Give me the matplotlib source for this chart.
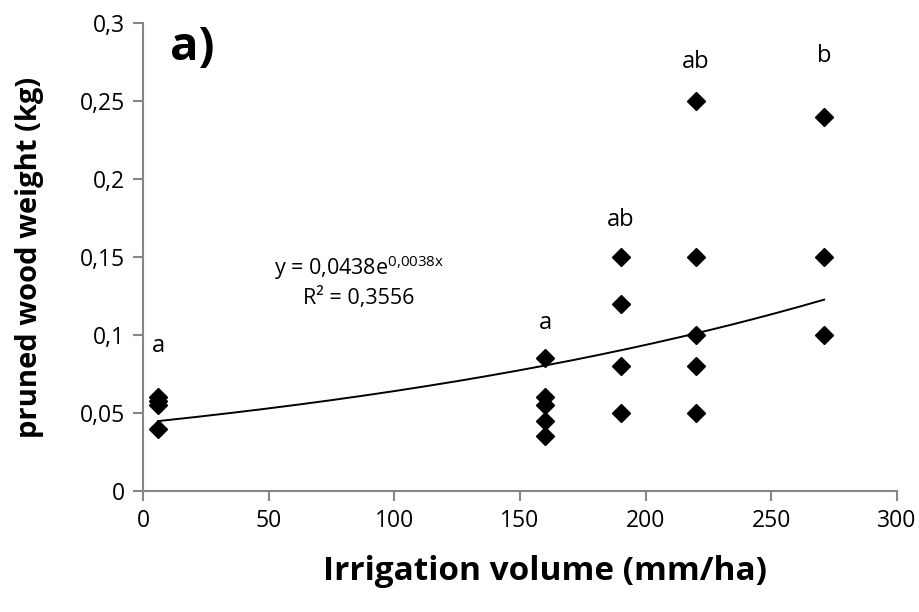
import numpy as np
import matplotlib.pyplot as plt
from matplotlib.ticker import FuncFormatter

plt.rcParams['font.family'] = ['Open Sans', 'DejaVu Sans']

# irrigation volume (mm/ha) and pruned wood weight (kg)
irrigation = [6, 6, 6, 6,
              160, 160, 160, 160, 160,
              190, 190, 190, 190,
              220, 220, 220, 220, 220,
              271, 271, 271]
wood = [0.06, 0.058, 0.055, 0.04,
        0.085, 0.06, 0.055, 0.045, 0.035,
        0.15, 0.12, 0.08, 0.05,
        0.25, 0.15, 0.10, 0.08, 0.05,
        0.24, 0.15, 0.10]

# significance letters per group
group_x = [6, 160, 190, 220, 271]
group_letters = ['a', 'a', 'ab', 'ab', 'b']
letter_y = [0.093, 0.108, 0.174, 0.275, 0.279]

# exponential trend y = 0.0438 e^(0.0038x)
coef_a, coef_b = 0.0438, 0.0038

fig = plt.figure(figsize=(9.2, 6.12), dpi=100)
ax = fig.add_axes([143 / 920, 121 / 612, 754 / 920, 468 / 612])

ax.plot(irrigation, wood, linestyle='none', marker='D', markersize=9,
        color='black')

xt = np.linspace(min(irrigation), max(irrigation), 200)
ax.plot(xt, coef_a * np.exp(coef_b * xt), color='black', lw=1.4)

for gx, lt, ly in zip(group_x, group_letters, letter_y):
    ax.text(gx, ly, lt, ha='center', va='center', fontsize=17)

ax.text(86, 0.143, r'y = 0,0438e$^{\mathregular{0{,}0038x}}$', ha='center',
        va='center', fontsize=15.5)
ax.text(86, 0.124, 'R² = 0,3556', ha='center', va='center', fontsize=15.5)
ax.text(19.5, 0.284, 'a)', ha='center', va='center', fontsize=34, fontweight='bold')

ax.set_xlim(0, 300)
ax.set_ylim(0, 0.3)
ax.set_xticks(range(0, 301, 50))
ax.set_yticks(np.arange(0, 0.301, 0.05))
ax.yaxis.set_major_formatter(FuncFormatter(
    lambda v, p: ('%g' % round(v, 2)).replace('.', ',')))

for s in ['top', 'right']:
    ax.spines[s].set_visible(False)
for s in ['left', 'bottom']:
    ax.spines[s].set_color('#868686')
    ax.spines[s].set_linewidth(1.5)
ax.tick_params(direction='out', length=7, width=1.5, color='#868686',
               labelsize=16.5, pad=6)

ax.set_xlabel('Irrigation volume (mm/ha)', fontsize=24, fontweight='bold')
ax.set_ylabel('pruned wood weight (kg)', fontsize=21, fontweight='bold')
ax.xaxis.set_label_coords((545 - 143) / 754, (491 - 572) / 468)
ax.yaxis.set_label_coords((30 - 143) / 754, (491 - 257) / 468)
ax.xaxis.label.set_va('center')
ax.yaxis.label.set_va('center')

plt.savefig('out.png', dpi=100)
